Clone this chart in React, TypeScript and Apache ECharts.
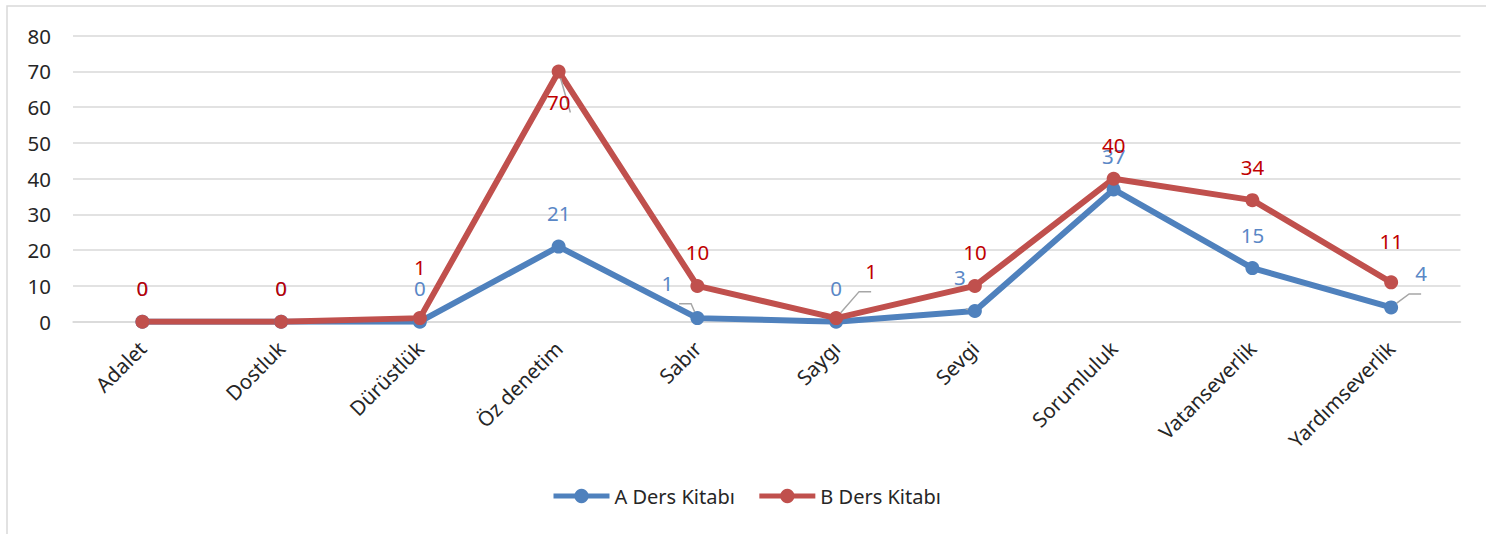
import React, { useEffect, useRef } from "react";
import * as echarts from "echarts";

const categories = ["Adalet", "Dostluk", "Dürüstlük", "Öz denetim", "Sabır", "Saygı", "Sevgi", "Sorumluluk", "Vatanseverlik", "Yardımseverlik"];
const seriesAValues = [0, 0, 0, 21, 1, 0, 3, 37, 15, 4];
const seriesBValues = [0, 0, 1, 70, 10, 1, 10, 40, 34, 11];
const seriesNames = ["A Ders Kitabı", "B Ders Kitabı"];

// label offsets (Excel moved labels) per point
const labelOffsetsA: (number[] | null)[] = [null, null, null, null, [-30, -2], null, [-15, 0], null, null, [30, -1]];
const labelOffsetsB: (number[] | null)[] = [null, null, [0, -18], [0, 64], null, [35, -14], null, null, null, [0, -8]];
// leader line second-segment length per point (null = no leader)
const leaderA: (number | null)[] = [null, null, null, null, 12, null, 0, null, null, 12];
const leaderB: (number | null)[] = [null, null, null, 0, null, 12, null, null, null, null];

const FONT = "'Noto Sans', 'Open Sans', sans-serif";
const FS = 20.5;

function buildData(values: number[], offsets: (number[] | null)[], leaders: (number | null)[]) {
  return values.map((v, i) => {
    const item: any = { value: v };
    if (offsets[i]) {
      item.label = { offset: offsets[i] };
    }
    if (leaders[i] !== null) {
      item.labelLine = {
        show: true,
        length2: leaders[i],
        lineStyle: { color: "#A6A6A6", width: 1.5 },
      };
    }
    return item;
  });
}

export default function App() {
  const ref = useRef<HTMLDivElement>(null);
  useEffect(() => {
    if (!ref.current) return;
    const chart = echarts.init(ref.current, undefined, { renderer: "svg" });
    const mkSeries = (name: string, values: number[], color: string, labelColor: string, offsets: any, leaders: (number | null)[]) => ({
      name,
      type: "line",
      data: buildData(values, offsets, leaders),
      symbol: "circle",
      symbolSize: 14,
      lineStyle: { width: 6, color },
      itemStyle: { color },
      label: {
        show: true,
        position: "top",
        distance: 16,
        color: labelColor,
        fontSize: FS,
        fontFamily: FONT,
      },
      labelLine: { show: false, lineStyle: { color: "#A6A6A6", width: 1.5 } },
    });
    chart.setOption({
      animation: false,
      backgroundColor: "#ffffff",
      graphic: [
        {
          type: "rect",
          shape: { x: 7, y: 6, width: 1500, height: 560 },
          style: { fill: "none", stroke: "#D9D9D9", lineWidth: 1.5 },
          silent: true,
        },
      ],
      grid: { left: 73, right: 25.5, top: 35.7, bottom: 212.3, containLabel: false },
      xAxis: {
        type: "category",
        data: categories,
        boundaryGap: true,
        axisLine: { show: true, lineStyle: { color: "#D9D9D9", width: 1.5 } },
        axisTick: { show: false },
        axisLabel: {
          rotate: 45,
          interval: 0,
          margin: 23,
          color: "#262626",
          fontSize: FS,
          fontFamily: FONT,
        },
      },
      yAxis: {
        type: "value",
        min: 0,
        max: 80,
        interval: 10,
        axisLine: { show: false },
        axisTick: { show: false },
        splitLine: { lineStyle: { color: "#D9D9D9", width: 1.5 } },
        axisLabel: { color: "#262626", fontSize: FS, fontFamily: FONT, margin: 22 },
      },
      legend: {
        data: seriesNames,
        left: 546,
        top: 481,
        itemWidth: 56,
        itemHeight: 18,
        itemGap: 22,
        lineStyle: { width: 5 },
        textStyle: { color: "#262626", fontSize: 20, fontFamily: FONT },
      },
      series: [
        mkSeries(seriesNames[0], seriesAValues, "#4F81BD", "#5A87C6", labelOffsetsA, leaderA),
        mkSeries(seriesNames[1], seriesBValues, "#C0504D", "#C00000", labelOffsetsB, leaderB),
      ],
    });
    return () => chart.dispose();
  }, []);
  return (
    <div
      ref={ref}
      style={{ position: "fixed", left: 0, top: 0, width: 1486, height: 534, background: "#fff" }}
    />
  );
}
